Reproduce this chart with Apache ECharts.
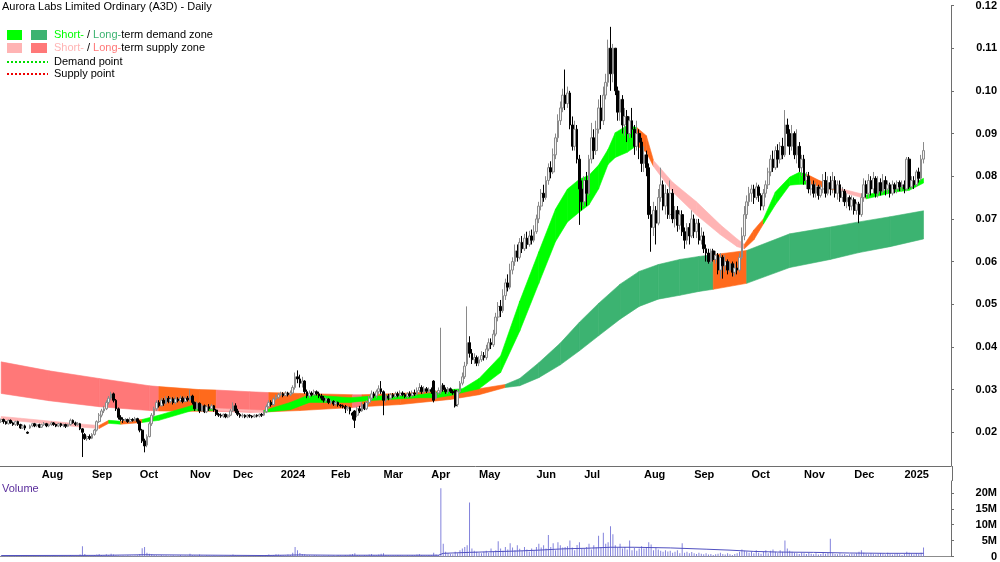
<!DOCTYPE html>
<html>
<head>
<meta charset="utf-8">
<title>A3D daily</title>
<script src="https://cdn.jsdelivr.net/npm/echarts@6.0.0/dist/echarts.min.js"></script>
<style>
  html, body { margin: 0; padding: 0; background: #fff; }
  #main { width: 1000px; height: 562px; }
</style>
</head>
<body>
<div id="main"></div>
<script>
// ---- x axis: trading-day slots, month ticks ----
var N_SLOTS = 398;
var monthNames = ["Aug", "Sep", "Oct", "Nov", "Dec", "2024", "Feb", "Mar", "Apr", "May", "Jun", "Jul", "Aug", "Sep", "Oct", "Nov", "Dec", "2025"];
var monthStarts = [17, 38, 58, 79, 97, 117, 138, 160, 180, 200, 224, 244, 269, 290, 314, 336, 357, 378];

// ---- prices in cents: [open, close, low, high] ----
var ohlcJul23 = [
  [2.25,2.30,2.22,2.32],[2.30,2.25,2.20,2.32],[2.25,2.20,2.18,2.27],[2.20,2.28,2.18,2.30],[2.28,2.22,2.20,2.30],
  [2.22,2.18,2.15,2.25],[2.18,2.25,2.15,2.27],[2.25,2.18,2.15,2.27],[2.18,2.10,2.08,2.20],[2.10,2.15,2.08,2.18],
  [2.15,2.10,2.05,2.18],[2.00,1.98,1.96,2.02],[2.10,2.15,2.08,2.18],[2.15,2.20,2.12,2.22],[2.20,2.15,2.12,2.22],
  [2.15,2.18,2.12,2.20],[2.18,2.12,2.10,2.20]
];
var ohlcAug23 = [
  [2.12,2.18,2.10,2.20],[2.18,2.20,2.15,2.24],[2.20,2.15,2.12,2.22],[2.15,2.18,2.12,2.20],[2.18,2.22,2.15,2.25],
  [2.22,2.18,2.15,2.24],[2.18,2.15,2.12,2.20],[2.15,2.20,2.12,2.22],[2.20,2.16,2.12,2.22],[2.16,2.18,2.12,2.20],
  [2.18,2.14,2.10,2.20],[2.14,2.18,2.12,2.20],[2.18,2.28,2.16,2.32],[2.28,2.22,2.20,2.30],[2.22,2.18,2.15,2.25],
  [2.18,2.20,2.15,2.24],[2.20,2.08,2.05,2.22],[2.08,2.00,1.42,2.10],[1.95,1.85,1.82,1.98],[1.85,1.90,1.80,1.92],
  [1.90,1.86,1.82,1.95]
];
var ohlcSep23 = [
  [1.86,1.95,1.84,1.98],[1.95,2.05,1.92,2.08],[2.05,2.25,2.02,2.28],[2.25,2.40,2.22,2.45],[2.40,2.50,2.35,2.55],
  [2.50,2.55,2.45,2.62],[2.55,2.70,2.52,2.75],[2.70,2.80,2.65,2.85],[2.80,2.90,2.75,2.95],[2.90,2.75,2.70,2.93],
  [2.75,2.55,2.50,2.78],[2.55,2.35,2.30,2.58],[2.35,2.30,2.26,2.40],[2.30,2.28,2.22,2.35],[2.28,2.30,2.25,2.33],
  [2.30,2.25,2.22,2.32],[2.25,2.30,2.22,2.35],[2.30,2.28,2.25,2.33],[2.28,2.32,2.25,2.36],[2.32,2.25,2.20,2.34]
];
var ohlcOct23 = [
  [2.25,2.05,2.00,2.28],[2.05,1.80,1.75,2.08],[1.80,1.68,1.53,1.85],[1.70,1.90,1.65,1.95],[1.90,2.20,1.88,2.25],
  [2.20,2.40,2.15,2.45],[2.40,2.55,2.35,2.60],[2.55,2.70,2.50,2.75],[2.70,2.62,2.58,2.75],[2.62,2.75,2.60,2.80],
  [2.75,2.68,2.62,2.80],[2.68,2.80,2.65,2.85],[2.80,2.72,2.68,2.85],[2.72,2.78,2.68,2.82],[2.78,2.70,2.65,2.82],
  [2.70,2.78,2.66,2.84],[2.78,2.74,2.70,2.82],[2.74,2.80,2.70,2.86],[2.80,2.72,2.68,2.84],[2.72,2.80,2.70,2.84],
  [2.80,2.76,2.72,2.85]
];
var ohlcNov23 = [
  [2.76,2.85,2.72,3.00],[2.85,2.70,2.65,2.88],[2.70,2.55,2.50,2.72],[2.55,2.68,2.50,2.72],[2.68,2.50,2.45,2.70],
  [2.50,2.62,2.48,2.66],[2.62,2.48,2.45,2.65],[2.48,2.60,2.45,2.64],[2.60,2.55,2.50,2.66],[2.55,2.62,2.52,2.66],
  [2.62,2.52,2.48,2.64],[2.52,2.42,2.38,2.55],[2.42,2.40,2.36,2.45],[2.40,2.38,2.34,2.44],[2.38,2.42,2.34,2.44],
  [2.42,2.36,2.33,2.44],[2.36,2.40,2.33,2.42],[2.40,2.50,2.38,2.55]
];
var ohlcDec23 = [
  [2.50,2.62,2.48,2.70],[2.62,2.50,2.45,2.68],[2.50,2.42,2.38,2.55],[2.42,2.38,2.34,2.45],[2.38,2.40,2.34,2.44],
  [2.40,2.36,2.33,2.42],[2.36,2.40,2.33,2.42],[2.40,2.38,2.34,2.42],[2.38,2.36,2.33,2.40],[2.36,2.40,2.34,2.42],
  [2.40,2.38,2.35,2.42],[2.38,2.42,2.35,2.44],[2.42,2.40,2.36,2.45],[2.40,2.48,2.38,2.52],[2.48,2.60,2.45,2.65],
  [2.60,2.70,2.58,2.75],[2.70,2.65,2.60,2.75],[2.65,2.78,2.62,2.82],[2.78,2.82,2.75,2.88],[2.82,2.88,2.78,2.92]
];
var ohlcJan24 = [
  [2.88,2.90,2.84,2.95],[2.90,2.86,2.82,2.94],[2.86,2.92,2.84,2.96],[2.92,2.88,2.84,2.95],[2.88,2.92,2.85,2.98],
  [2.92,3.05,2.90,3.10],[3.05,3.30,3.00,3.40],[3.30,3.25,3.15,3.45],[3.25,3.15,3.05,3.35],[3.15,3.20,3.05,3.30],
  [3.20,2.95,2.90,3.22],[2.95,2.85,2.80,3.00],[2.85,2.92,2.80,2.98],[2.92,2.88,2.84,2.96],[2.88,2.95,2.85,3.00],
  [2.95,2.90,2.86,2.98],[2.90,2.85,2.80,2.95],[2.85,2.80,2.75,2.90],[2.80,2.75,2.70,2.85],[2.75,2.78,2.70,2.82],
  [2.78,2.70,2.66,2.80]
];
var ohlcFeb24 = [
  [2.70,2.72,2.65,2.76],[2.72,2.66,2.62,2.75],[2.66,2.70,2.62,2.74],[2.70,2.64,2.60,2.72],[2.64,2.62,2.58,2.66],
  [2.62,2.60,2.56,2.65],[2.60,2.55,2.45,2.64],[2.55,2.58,2.50,2.62],[2.58,2.50,2.42,2.60],[2.45,2.40,2.30,2.48],
  [2.50,2.28,2.10,2.52],[2.40,2.55,2.35,2.60],[2.55,2.50,2.45,2.62],[2.50,2.65,2.48,2.70],[2.65,2.55,2.52,2.70],
  [2.55,2.70,2.52,2.75],[2.70,2.80,2.65,2.85],[2.80,2.90,2.75,2.98],[2.90,2.85,2.80,2.95],[2.85,2.95,2.80,3.00],
  [2.95,3.02,2.90,3.10],[3.02,2.95,2.90,3.20]
];
var ohlcMar24 = [
  [2.95,2.75,2.40,2.98],[2.75,2.85,2.70,2.90],[2.85,2.80,2.75,2.90],[2.80,2.88,2.76,2.92],[2.88,2.84,2.80,2.92],
  [2.84,2.90,2.80,2.95],[2.90,2.86,2.82,2.95],[2.86,2.92,2.82,2.98],[2.92,2.88,2.84,2.96],[2.88,2.84,2.80,2.92],
  [2.84,2.90,2.80,2.94],[2.90,2.86,2.82,2.96],[2.86,2.92,2.82,2.98],[2.92,2.90,2.85,3.00],[2.90,2.98,2.86,3.05],
  [2.98,3.05,2.92,3.15],[3.05,2.95,2.90,3.10],[2.95,3.02,2.90,3.08],[3.02,2.96,2.92,3.06],[2.96,3.00,2.92,3.05]
];
var ohlcApr24 = [
  [3.00,2.95,2.90,3.05],[3.20,2.75,2.70,3.22],[2.80,2.92,2.78,2.98],[2.92,2.98,2.88,3.05],[2.95,3.10,2.90,4.45],
  [3.10,3.00,2.95,3.15],[3.00,2.95,2.90,3.05],[2.95,3.02,2.90,3.06],[3.02,2.96,2.92,3.05],[2.96,2.92,2.88,3.00],
  [2.98,2.62,2.58,3.00],[2.65,2.95,2.60,3.00],[2.95,3.15,2.92,3.20],[3.15,3.30,3.10,3.40],[3.30,3.55,3.25,3.65],
  [3.60,4.10,3.55,4.95],[4.10,3.85,3.75,4.25],[3.85,3.70,3.60,3.95],[3.70,3.75,3.60,3.85],[3.75,3.62,3.55,3.80]
];
var ohlcMay24 = [
  [3.62,3.70,3.55,3.78],[3.70,3.80,3.65,3.90],[3.80,3.75,3.68,3.88],[3.75,3.95,3.70,4.05],[3.95,4.10,3.90,4.20],
  [4.10,4.05,3.95,4.20],[4.05,4.30,4.00,4.40],[4.30,4.70,4.25,4.80],[4.70,4.95,4.60,5.05],[4.95,4.85,4.70,5.10],
  [4.85,5.20,4.80,5.35],[5.20,5.50,5.10,5.60],[5.50,5.40,5.30,5.70],[5.40,5.80,5.35,5.95],[5.80,6.00,5.70,6.10],
  [6.00,6.25,5.90,6.40],[6.25,6.10,6.00,6.40],[6.10,6.45,6.05,6.55],[6.45,6.30,6.20,6.60],[6.30,6.55,6.25,6.65],
  [6.55,6.40,6.30,6.70],[6.40,6.60,6.35,6.72],[6.60,6.50,6.40,6.75],[6.50,6.70,6.45,6.85]
];
var ohlcJun24 = [
  [6.70,7.00,6.65,7.10],[7.00,7.30,6.90,7.40],[7.30,7.60,7.20,7.70],[7.60,7.50,7.40,7.80],[7.50,7.90,7.45,8.00],
  [7.90,8.20,7.80,8.30],[8.20,8.10,7.95,8.35],[8.10,8.50,8.05,8.65],[8.50,8.90,8.40,9.00],[8.90,9.30,8.80,9.45],
  [9.30,9.60,9.20,9.75],[9.60,9.90,9.50,10.05],[9.90,9.70,9.55,10.50],[9.70,9.95,9.60,10.10],[9.95,9.20,9.10,10.00],
  [9.20,8.70,8.60,9.40],[8.70,9.10,8.60,9.30],[9.10,8.40,8.30,9.20],[8.40,7.70,6.86,8.50],[7.70,7.40,7.20,7.90]
];
var ohlcJul24 = [
  [7.40,7.90,7.30,8.00],[7.90,7.60,7.30,8.10],[7.60,8.40,7.55,8.50],[8.40,8.90,8.30,9.25],[8.90,8.60,8.40,9.10],
  [8.60,9.10,8.50,9.30],[9.10,9.60,9.00,9.80],[9.60,9.30,9.10,9.90],[9.30,9.90,9.20,10.10],[9.90,10.20,9.80,10.40],
  [10.20,11.00,10.10,11.20],[11.00,10.40,10.00,11.50],[10.40,11.00,10.20,11.10],[11.00,10.00,9.90,11.00],[10.00,9.50,9.30,10.10],
  [9.50,9.80,9.30,10.00],[9.80,9.20,9.00,9.90],[9.20,9.40,8.95,9.60],[9.40,9.00,8.80,9.55],[9.00,9.30,8.90,9.40],
  [9.30,9.10,8.90,9.60],[9.10,8.70,8.50,9.20],[8.70,9.00,8.60,9.30],[9.00,8.80,8.40,9.10],[8.80,8.30,8.10,8.90]
];
var ohlcAug24 = [
  [8.30,8.50,8.10,8.70],[8.50,8.20,8.00,8.60],[8.20,7.10,7.00,8.30],[7.10,6.80,6.23,7.30],[6.80,7.20,6.60,7.40],
  [7.20,6.90,6.40,7.30],[6.90,7.50,6.85,7.70],[7.50,7.80,7.40,8.20],[7.80,7.30,7.20,7.90],[7.30,7.60,7.10,7.80],
  [7.60,7.10,7.00,7.70],[7.10,7.60,7.00,7.90],[7.60,7.00,6.90,7.70],[7.00,7.20,6.80,7.30],[7.20,6.85,6.70,7.30],
  [6.85,7.10,6.75,7.20],[7.10,6.70,6.60,7.20],[6.70,6.50,6.30,6.80],[6.50,6.80,6.40,6.90],[6.80,6.60,6.40,6.90],
  [6.60,7.00,6.55,7.20]
];
var ohlcSep24 = [
  [7.00,6.70,6.55,7.10],[6.70,6.90,6.55,7.00],[6.90,6.50,6.40,7.00],[6.50,6.60,6.40,6.80],[6.60,6.30,6.20,6.70],
  [6.30,6.20,6.00,6.40],[6.20,6.00,5.95,6.30],[6.00,6.25,5.95,6.30],[6.25,6.05,6.00,6.30],[6.05,6.15,5.95,6.25],
  [6.15,5.80,5.70,6.20],[5.80,6.10,5.60,6.20],[6.10,5.90,5.60,6.15],[5.90,6.00,5.75,6.15],[6.00,5.80,5.70,6.05],
  [5.80,5.95,5.75,6.00],[5.95,5.75,5.65,6.00],[5.75,5.85,5.65,5.95],[5.85,5.80,5.70,6.00],[5.80,6.10,5.75,6.20],
  [6.10,6.60,6.05,6.80],[6.60,7.10,6.50,7.30],[7.10,7.40,7.00,7.55],[7.40,7.60,7.30,7.75]
];
var ohlcOct24 = [
  [7.60,7.70,7.40,7.80],[7.70,7.50,7.35,7.80],[7.50,7.75,7.45,7.85],[7.75,7.55,7.40,7.80],[7.55,7.30,7.20,7.60],
  [7.30,7.60,7.20,7.70],[7.60,7.80,7.50,7.90],[7.80,8.10,7.70,8.20],[8.10,8.40,8.00,8.50],[8.40,8.20,8.10,8.60],
  [8.20,8.60,8.15,8.70],[8.60,8.40,8.20,8.75],[8.40,8.70,8.30,8.80],[8.70,8.50,8.40,8.90],[8.50,9.20,8.45,9.55],
  [9.20,9.00,8.70,9.35],[9.00,8.70,8.50,9.10],[8.70,9.00,8.60,9.20],[9.00,8.50,8.40,9.05],[8.50,8.70,8.30,9.10],
  [8.70,8.20,8.10,8.80],[8.20,8.40,8.00,8.50]
];
var ohlcNov24 = [
  [8.40,7.90,7.80,8.50],[7.90,8.00,7.70,8.10],[8.00,7.70,7.60,8.10],[7.70,7.80,7.55,7.90],[7.80,7.60,7.50,7.90],
  [7.60,7.75,7.50,7.85],[7.75,7.55,7.45,7.80],[7.55,7.70,7.50,7.80],[7.70,7.90,7.60,8.05],[7.90,7.60,7.50,8.10],
  [7.60,7.85,7.55,8.00],[7.85,7.70,7.55,8.00],[7.70,7.90,7.60,8.10],[7.90,7.60,7.50,8.00],[7.60,7.80,7.45,7.90],
  [7.80,7.50,7.40,7.90],[7.50,7.65,7.40,7.75],[7.65,7.40,7.30,7.70],[7.40,7.50,7.25,7.60],[7.50,7.30,7.20,7.55],
  [7.30,7.45,7.20,7.55]
];
var ohlcDec24 = [
  [7.45,7.20,7.10,7.50],[7.20,7.35,7.10,7.40],[7.35,7.10,6.90,7.40],[7.10,7.50,7.05,7.60],[7.50,7.80,7.40,7.95],
  [7.80,7.60,7.50,7.90],[7.60,7.90,7.50,8.05],[7.90,7.70,7.55,8.00],[7.70,7.95,7.60,8.10],[7.95,7.60,7.50,8.00],
  [7.60,7.85,7.50,8.00],[7.85,7.65,7.55,7.95],[7.65,7.90,7.60,8.05],[7.90,7.70,7.55,8.00],[7.70,7.80,7.60,7.90],
  [7.80,7.60,7.50,7.85],[7.60,7.80,7.55,7.90],[7.80,7.70,7.60,7.85],[7.70,7.85,7.60,7.90],[7.85,7.75,7.65,7.90],
  [7.75,7.80,7.65,7.90]
];
var ohlcJan25 = [
  [7.80,7.70,7.60,7.90],[7.70,8.40,7.65,8.45],[8.40,7.75,7.70,8.45],[7.75,7.90,7.70,8.00],[7.90,7.80,7.70,8.00],
  [7.80,8.10,7.75,8.15],[8.10,7.95,7.85,8.20],[7.95,8.40,7.90,8.50],[8.40,8.60,8.30,8.80]
];

// ---- volume, millions ----
var vol2023 = [
  0.2,0.1,0.3,0.15,0.1,0.4,0.2,0.1,0.3,0.2,0.15,0.1,0.3,0.2,0.1,0.25,0.2,
  0.2,0.3,0.1,0.15,0.2,0.4,0.1,0.2,0.3,0.1,0.2,0.15,0.5,0.3,0.2,0.1,0.6,3.2,0.8,0.4,0.3,
  0.3,0.5,0.6,0.8,0.5,0.4,0.7,0.5,0.9,0.6,0.4,0.3,0.2,0.3,0.2,0.4,0.3,0.2,0.3,0.4,
  0.8,2.6,3.0,1.2,0.9,0.7,0.5,0.4,0.3,0.5,0.3,0.4,0.2,0.3,0.4,0.2,0.3,0.5,0.2,0.3,0.2,
  0.9,0.5,0.4,0.3,0.6,0.3,0.2,0.4,0.3,0.2,0.3,0.2,0.1,0.2,0.15,0.2,0.1,0.3,
  0.6,0.4,0.3,0.2,0.1,0.2,0.15,0.1,0.2,0.1,0.15,0.1,0.2,0.3,0.5,0.6,0.4,0.5,0.7,0.6
];
var volJanJun24 = [
  0.5,0.4,0.3,0.6,0.5,1.2,3.0,2.0,1.1,0.8,0.7,0.5,0.4,0.3,0.5,0.4,0.3,0.2,0.3,0.2,0.3,
  0.2,0.3,0.2,0.4,0.3,0.2,0.5,0.3,0.6,0.8,1.0,0.5,0.4,0.3,0.5,0.4,0.6,0.8,0.5,0.4,0.6,0.9,
  1.0,0.5,0.4,0.3,0.4,0.3,0.5,0.4,0.3,0.2,0.4,0.3,0.5,0.4,0.6,0.8,0.5,0.4,0.3,0.5,
  0.4,1.2,0.6,0.5,21.5,4.0,1.5,1.0,0.8,0.7,1.5,1.0,2.0,2.5,3.0,3.5,17.0,2.5,1.8,1.5,
  1.2,1.0,1.5,1.8,1.2,2.5,1.6,2.0,4.8,2.5,1.8,3.0,2.2,4.2,2.8,2.0,3.5,2.4,1.8,3.0,2.2,1.6,2.5,2.0,
  3.0,4.0,2.8,3.5,2.5,6.8,3.0,4.2,2.0,4.5,3.5,2.8,3.0,3.2,5.0,2.8,2.0,3.6,4.5,2.5
];
var volJul24Jan25 = [
  2.5,3.0,4.0,2.2,3.5,2.8,6.5,3.0,7.5,4.0,4.5,9.5,7.0,3.5,2.8,4.0,2.5,3.0,2.2,5.0,2.0,2.8,1.8,2.5,3.2,
  2.5,3.0,4.5,3.8,2.0,2.8,2.2,1.8,1.5,2.0,1.6,1.8,1.2,1.5,2.0,1.0,4.2,1.2,1.5,1.0,1.4,
  1.0,0.8,1.2,0.9,0.7,1.0,0.6,0.8,0.5,0.7,0.9,1.2,0.8,0.6,1.0,0.7,0.5,0.8,1.0,1.5,2.2,1.8,1.6,1.2,
  1.5,1.0,2.0,1.2,0.9,1.5,2.0,1.0,1.8,2.2,1.5,1.2,2.0,1.5,5.0,2.5,1.8,1.5,1.2,1.0,0.8,1.2,
  1.0,0.8,1.2,0.9,0.7,1.0,0.6,0.8,1.2,0.9,1.1,5.6,1.0,0.8,0.7,1.0,0.6,0.8,0.5,0.7,0.9,
  0.8,1.0,1.5,2.0,1.2,0.9,0.7,1.0,0.8,0.6,0.9,1.1,0.8,0.7,1.2,0.9,0.6,0.8,1.0,0.7,0.5,
  0.8,1.5,1.2,0.9,0.7,1.0,0.8,1.2,2.8
];
// volume average line, read at a few days
var volAvgIdx = [0, 40, 60, 80, 110, 125, 140, 183, 185, 196, 205, 215, 225, 235, 245, 255, 265, 280, 295, 305, 315, 325, 340, 355, 370, 386];
var volAvgVal = [0.3, 0.35, 0.55, 0.45, 0.3, 0.5, 0.4, 0.4, 1.0, 1.3, 1.5, 1.7, 2.0, 2.4, 2.6, 2.9, 2.9, 2.7, 2.3, 2.0, 1.6, 1.4, 1.3, 1.1, 1.0, 1.0];

// ---- short-term zone edges (cents) read at a few days; zone applies up to next point ----
var stIdx  = [0, 8, 17, 34, 41, 45, 50, 59, 66, 80, 89, 110, 121, 129, 146, 153, 175, 182, 188, 193, 200, 209, 217, 225, 232, 237, 242, 246, 250, 254, 257, 262, 266, 270, 273, 281, 291, 301, 308, 311, 315, 319, 324, 330, 334, 337, 342, 349, 362, 374, 380, 386];
var stHi   = [2.37, 2.33, 2.28, 2.19, 2.16, 2.28, 2.26, 2.30, 2.40, 2.63, 2.56, 2.51, 2.70, 2.88, 2.81, 2.84, 2.88, 2.93, 3.00, 3.02, 3.26, 3.79, 5.07, 6.23, 7.23, 7.70, 7.93, 8.02, 8.26, 8.63, 9.02, 9.19, 9.14, 8.95, 8.37, 7.86, 7.40, 6.86, 6.53, 6.40, 6.74, 7.00, 7.63, 7.98, 8.09, 8.05, 7.91, 7.74, 7.56, 7.72, 7.77, 7.95];
var stLo   = [2.30, 2.26, 2.21, 2.12, 2.09, 2.21, 2.19, 2.23, 2.28, 2.51, 2.51, 2.47, 2.53, 2.70, 2.70, 2.74, 2.81, 2.81, 2.86, 2.93, 3.02, 3.40, 4.37, 5.49, 6.47, 6.93, 7.16, 7.33, 7.70, 8.28, 8.44, 8.56, 8.72, 8.56, 8.23, 7.63, 7.09, 6.63, 6.35, 6.30, 6.51, 6.88, 7.33, 7.79, 7.81, 7.81, 7.77, 7.67, 7.47, 7.63, 7.67, 7.84];
var stZone = ["S","S","S","S","T","D","T","D","D","D","S","D","D","D","D","D","D","D","D","D","D","D","D","D","D","D","D","D","D","D","D","D","T","T","S","S","S","S","S","T","T","D","D","D","D","T","T","S","D","D","D","D"];

// ---- long-term zone edges (cents) ----
var ltIdx  = [0, 20, 41, 62, 66, 83, 90, 104, 112, 125, 147, 151, 167, 188, 200, 211, 217, 225, 234, 242, 250, 259, 267, 275, 284, 292, 298, 312, 330, 347, 359, 372, 386];
var ltHi   = [3.65, 3.44, 3.26, 3.09, 3.07, 3.00, 2.99, 2.95, 2.93, 2.91, 2.88, 2.88, 2.91, 2.98, 3.02, 3.12, 3.26, 3.63, 4.09, 4.58, 5.02, 5.47, 5.77, 5.93, 6.05, 6.12, 6.16, 6.26, 6.65, 6.81, 6.93, 7.05, 7.19];
var ltLo   = [2.91, 2.74, 2.60, 2.51, 2.50, 2.49, 2.49, 2.47, 2.48, 2.51, 2.58, 2.60, 2.65, 2.77, 2.88, 3.05, 3.09, 3.28, 3.58, 3.91, 4.26, 4.65, 4.95, 5.12, 5.21, 5.30, 5.35, 5.49, 5.86, 6.05, 6.21, 6.35, 6.53];
var ltZone = ["S","S","S","S","T","T","S","S","T","T","S","T","T","T","T","D","D","D","D","D","D","D","D","D","D","D","T","D","D","D","D","D","D"];

// ---- colours ----
var stColors = { D: "#00ff00", S: "#ffb4b4", T: "#ff6a1c" };
var ltColors = { D: "#3cb371", S: "#ff7878", T: "#ff6a1c" };
var FONT = "Liberation Sans";

// ---- build series data ----
var ohlc = [].concat(ohlcJul23, ohlcAug23, ohlcSep23, ohlcOct23, ohlcNov23, ohlcDec23,
  ohlcJan24, ohlcFeb24, ohlcMar24, ohlcApr24, ohlcMay24, ohlcJun24, ohlcJul24,
  ohlcAug24, ohlcSep24, ohlcOct24, ohlcNov24, ohlcDec24, ohlcJan25);
var volume = [].concat(vol2023, volJanJun24, volJul24Jan25);

var categories = [];
for (var i = 0; i < N_SLOTS; i++) categories.push(String(i));
var monthLabel = {};
monthStarts.forEach(function (idx, k) { monthLabel[idx] = monthNames[k]; });

var volAvg = categories.map(function () { return null; });
volAvgIdx.forEach(function (idx, k) { volAvg[idx] = volAvgVal[k]; });

/** 把采样点两两连成四边形段，颜色按 zone */
function zoneSegments(idx, hi, lo, zone) {
  var segs = [];
  for (var k = 0; k < idx.length - 1; k++) {
    segs.push({ value: [idx[k], lo[k], hi[k], idx[k + 1], lo[k + 1], hi[k + 1]], zone: zone[k] });
  }
  return segs;
}

function zoneSeries(name, segs, colors, z) {
  return {
    name: name, type: "custom", xAxisIndex: 0, yAxisIndex: 0, z: z, silent: true, clip: true,
    encode: { x: [0, 3], y: [1, 2, 4, 5] },
    data: segs.map(function (s) { return s.value; }),
    renderItem: function (params, api) {
      var a = api.coord([api.value(0), api.value(2)]);
      var b = api.coord([api.value(3), api.value(5)]);
      var c = api.coord([api.value(3), api.value(4)]);
      var d = api.coord([api.value(0), api.value(1)]);
      var col = colors[segs[params.dataIndex].zone];
      return {
        type: "polygon",
        shape: { points: [a, b, c, d] },
        style: { fill: col, stroke: col, lineWidth: 0.6 }
      };
    }
  };
}

function legendRich(c1, c2) {
  return {
    s: { fill: c1, font: "11px '" + FONT + "'" },
    k: { fill: "#000", font: "11px '" + FONT + "'" },
    l: { fill: c2, font: "11px '" + FONT + "'" }
  };
}

var chart = echarts.init(document.getElementById("main"), null, { renderer: "canvas" });

chart.setOption({
  animation: false,
  backgroundColor: "#ffffff",
  grid: [
    { left: 0, right: 48, top: 3, height: 463 },
    { left: 0, right: 48, top: 481, height: 76 }
  ],
  xAxis: [
    {
      type: "category", gridIndex: 0, data: categories, boundaryGap: true,
      axisLine: { lineStyle: { color: "#6e6e6e", width: 1 } },
      axisTick: { length: 5, lineStyle: { color: "#6e6e6e" }, interval: function (i) { return monthLabel[i] !== undefined; } },
      axisLabel: {
        interval: function (i) { return monthLabel[i] !== undefined; },
        formatter: function (v, i) { return monthLabel[i] || ""; },
        align: "left", margin: 3,
        fontFamily: FONT, fontSize: 11, fontWeight: "bold", color: "#000"
      },
      splitLine: { show: false }
    },
    {
      type: "category", gridIndex: 1, data: categories, boundaryGap: true, position: "top",
      axisLine: { lineStyle: { color: "#8c8c8c", width: 1 } },
      axisTick: { show: false }, axisLabel: { show: false }, splitLine: { show: false }
    }
  ],
  yAxis: [
    {
      type: "value", gridIndex: 0, position: "right", min: 1.21, max: 12, scale: true,
      axisLine: { show: true, lineStyle: { color: "#6e6e6e" } },
      axisTick: { show: true, length: 3, lineStyle: { color: "#6e6e6e" }, customValues: [2, 3, 4, 5, 6, 7, 8, 9, 10, 11, 12] },
      axisLabel: {
        customValues: [2, 3, 4, 5, 6, 7, 8, 9, 10, 11, 12],
        formatter: function (v) { return (v / 100).toFixed(2); },
        align: "right", margin: 46,
        fontFamily: FONT, fontSize: 11, fontWeight: "bold", color: "#000"
      },
      splitLine: { show: false }
    },
    {
      type: "value", gridIndex: 1, position: "right", min: 0, max: 23.75,
      axisLine: { show: true, lineStyle: { color: "#6e6e6e" } },
      axisTick: { show: true, length: 3, lineStyle: { color: "#6e6e6e" }, customValues: [0, 5, 10, 15, 20] },
      axisLabel: {
        customValues: [0, 5, 10, 15, 20],
        formatter: function (v) { return v === 0 ? "0" : v + "M"; },
        align: "right", margin: 46,
        fontFamily: FONT, fontSize: 11, fontWeight: "bold", color: "#000"
      },
      splitLine: { show: false }
    }
  ],
  series: [
    zoneSeries("Long-term zone", zoneSegments(ltIdx, ltHi, ltLo, ltZone), ltColors, 1),
    zoneSeries("Short-term zone", zoneSegments(stIdx, stHi, stLo, stZone), stColors, 2),
    {
      name: "A3D", type: "candlestick", xAxisIndex: 0, yAxisIndex: 0, z: 5,
      data: ohlc, barWidth: 2.2,
      itemStyle: { color: "#f2f2f2", color0: "#000000", borderColor: "#8a8a8a", borderColor0: "#000000", borderWidth: 1 }
    },
    {
      name: "Volume", type: "bar", xAxisIndex: 1, yAxisIndex: 1, data: volume,
      barWidth: 1, itemStyle: { color: "#8383dc" }
    },
    {
      name: "Volume MA", type: "line", xAxisIndex: 1, yAxisIndex: 1, data: volAvg,
      connectNulls: true, symbol: "none", lineStyle: { color: "#5050c0", width: 1 }
    }
  ],
  graphic: [
    { type: "text", left: 2, top: 1, style: { text: "Aurora Labs Limited Ordinary (A3D) - Daily", font: "11px '" + FONT + "'", fill: "#000" } },
    { type: "rect", shape: { x: 7, y: 30, width: 15, height: 10 }, style: { fill: stColors.D } },
    { type: "rect", shape: { x: 31, y: 30, width: 16, height: 10 }, style: { fill: ltColors.D } },
    { type: "rect", shape: { x: 7, y: 43, width: 15, height: 10 }, style: { fill: stColors.S } },
    { type: "rect", shape: { x: 31, y: 43, width: 16, height: 10 }, style: { fill: ltColors.S } },
    { type: "text", x: 54, y: 35, style: {
        text: "{s|Short-}{k| / }{l|Long-}{k|term demand zone}", verticalAlign: "middle",
        rich: legendRich(stColors.D, ltColors.D) } },
    { type: "text", x: 54, y: 48, style: {
        text: "{s|Short-}{k| / }{l|Long-}{k|term supply zone}", verticalAlign: "middle",
        rich: legendRich(stColors.S, ltColors.S) } },
    { type: "line", shape: { x1: 7, y1: 62, x2: 48, y2: 62 }, style: { stroke: "#00dd00", lineWidth: 2, lineDash: [2, 2] } },
    { type: "line", shape: { x1: 7, y1: 74, x2: 48, y2: 74 }, style: { stroke: "#ee0000", lineWidth: 2, lineDash: [2, 2] } },
    { type: "text", x: 54, y: 62, style: { text: "Demand point", font: "11px '" + FONT + "'", fill: "#000", verticalAlign: "middle" } },
    { type: "text", x: 54, y: 74, style: { text: "Supply point", font: "11px '" + FONT + "'", fill: "#000", verticalAlign: "middle" } },
    { type: "text", x: 2, y: 489, style: { text: "Volume", font: "11px '" + FONT + "'", fill: "#5a2d9c", verticalAlign: "middle" } },
    { type: "line", shape: { x1: 952.5, y1: 466, x2: 952.5, y2: 481 }, style: { stroke: "#6e6e6e", lineWidth: 1 } }
  ]
});
</script>
</body>
</html>
